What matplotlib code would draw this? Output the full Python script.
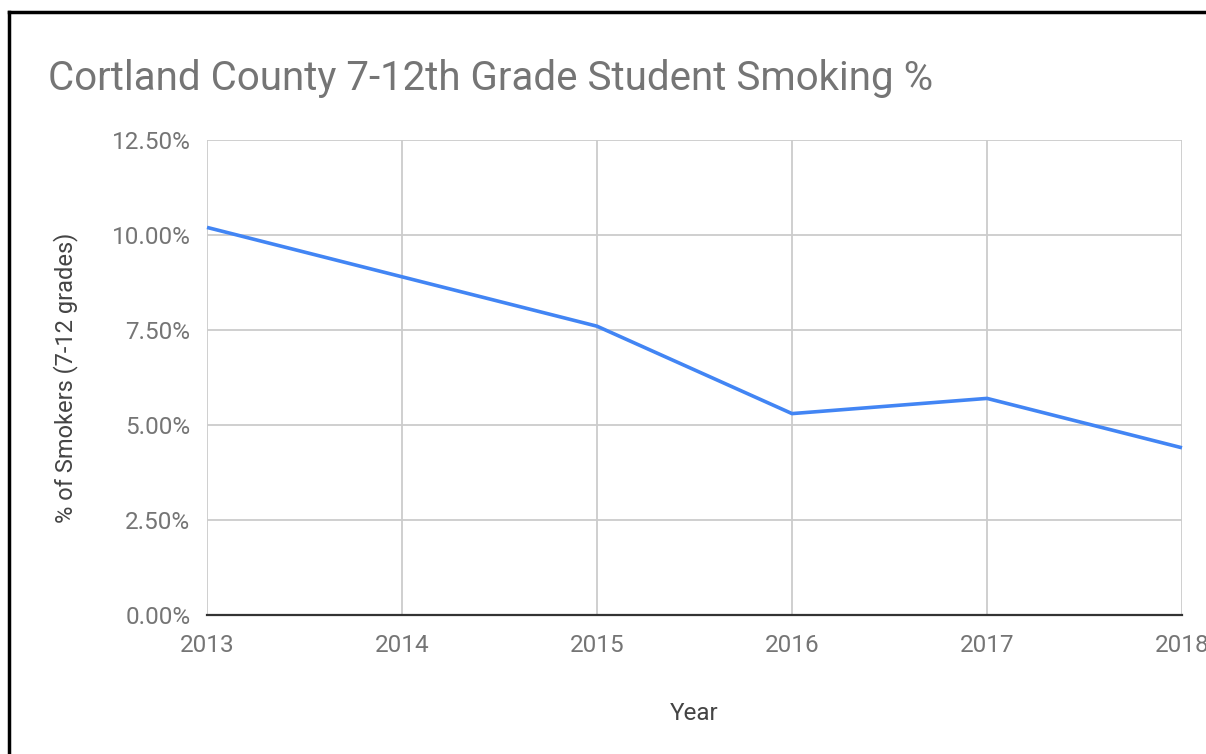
import matplotlib.pyplot as plt
from matplotlib.lines import Line2D
from matplotlib.ticker import FuncFormatter

years = [2013, 2014, 2015, 2016, 2017, 2018]
smoking = [10.2, 8.9, 7.6, 5.3, 5.7, 4.4]
yticks = [0, 2.5, 5, 7.5, 10, 12.5]

plt.rcParams['font.family'] = ['Roboto', 'DejaVu Sans']

fig = plt.figure(figsize=(12.06, 7.54), dpi=100)
ax = fig.add_axes([207/1206, 1 - 615/754, 975/1206, 475/754])

ax.plot(years, smoking, color='#4285f4', linewidth=2.6, solid_capstyle='butt', clip_on=False)
ax.set_xlim(2013, 2018)
ax.set_ylim(0, 12.5)
ax.set_xticks(years)
ax.set_yticks(yticks)
ax.yaxis.set_major_formatter(FuncFormatter(lambda v, p: '%.2f%%' % v))
ax.grid(color='#cccccc', linewidth=1.3)
ax.set_axisbelow(True)
for s in ['top', 'right', 'left']:
    ax.spines[s].set_visible(False)
ax.spines['bottom'].set_color('#333333')
ax.spines['bottom'].set_linewidth(1.6)
ax.tick_params(length=0, labelsize=17.5, labelcolor='#757575')
ax.tick_params(axis='y', pad=12)
ax.tick_params(axis='x', pad=14)

ax.set_xlabel('Year', fontsize=17.5, color='#444444', labelpad=32)
ax.set_ylabel('% of Smokers (7-12 grades)', fontsize=17, color='#444444', labelpad=24)

fig.text(48/1206, 1 - 78/754, 'Cortland County 7-12th Grade Student Smoking %',
         fontsize=29, color='#757575', va='center', ha='left')

# frame around the picture (left and top only visible)
fig.add_artist(Line2D([9/1206, 9/1206], [0, 1 - 12/754], color='black', linewidth=2.5, transform=fig.transFigure))
fig.add_artist(Line2D([9/1206, 1], [1 - 12/754, 1 - 12/754], color='black', linewidth=2.5, transform=fig.transFigure))

plt.savefig('out.png')
